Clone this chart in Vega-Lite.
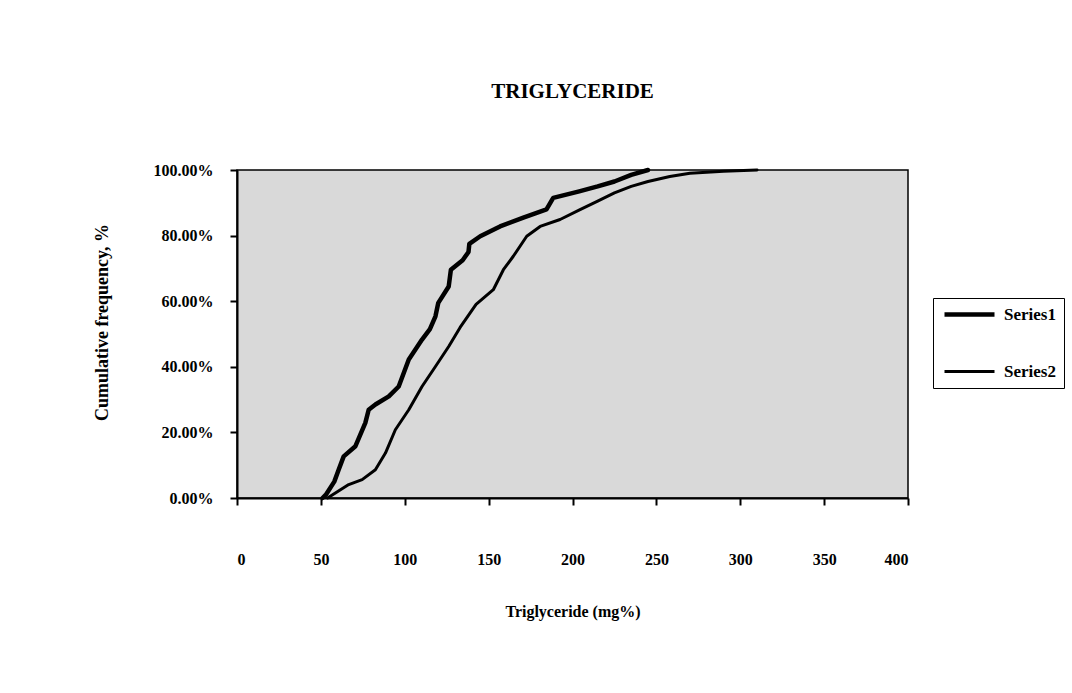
{
  "$schema": "https://vega.github.io/schema/vega-lite/v6.json",
  "autosize": "none",
  "width": 671,
  "height": 328,
  "padding": {"left": 237, "top": 170, "right": 164, "bottom": 195},
  "background": "white",
  "title": {"text": "TRIGLYCERIDE", "font": "Liberation Serif", "fontSize": 21, "fontWeight": "bold", "color": "black", "anchor": "middle", "offset": 60},
  "data": {"values": [
    {"series": "Series1", "tg": 51, "cf": 0},
    {"series": "Series1", "tg": 53, "cf": 0.01},
    {"series": "Series1", "tg": 58, "cf": 0.05},
    {"series": "Series1", "tg": 60.6, "cf": 0.086},
    {"series": "Series1", "tg": 63.6, "cf": 0.127},
    {"series": "Series1", "tg": 70.6, "cf": 0.158},
    {"series": "Series1", "tg": 76.5, "cf": 0.229},
    {"series": "Series1", "tg": 78.5, "cf": 0.269},
    {"series": "Series1", "tg": 82.5, "cf": 0.285},
    {"series": "Series1", "tg": 90.5, "cf": 0.31},
    {"series": "Series1", "tg": 96.4, "cf": 0.34},
    {"series": "Series1", "tg": 102.4, "cf": 0.422},
    {"series": "Series1", "tg": 110.3, "cf": 0.483},
    {"series": "Series1", "tg": 115, "cf": 0.515},
    {"series": "Series1", "tg": 118.3, "cf": 0.554},
    {"series": "Series1", "tg": 120, "cf": 0.595},
    {"series": "Series1", "tg": 126.2, "cf": 0.645},
    {"series": "Series1", "tg": 127.5, "cf": 0.696},
    {"series": "Series1", "tg": 134.5, "cf": 0.725},
    {"series": "Series1", "tg": 138, "cf": 0.75},
    {"series": "Series1", "tg": 138.5, "cf": 0.775},
    {"series": "Series1", "tg": 145, "cf": 0.798},
    {"series": "Series1", "tg": 156.8, "cf": 0.828},
    {"series": "Series1", "tg": 170.7, "cf": 0.855},
    {"series": "Series1", "tg": 184.5, "cf": 0.88},
    {"series": "Series1", "tg": 188.5, "cf": 0.915},
    {"series": "Series1", "tg": 204, "cf": 0.935},
    {"series": "Series1", "tg": 215, "cf": 0.95},
    {"series": "Series1", "tg": 225, "cf": 0.965},
    {"series": "Series1", "tg": 235, "cf": 0.985},
    {"series": "Series1", "tg": 245, "cf": 1.0},
    {"series": "Series2", "tg": 54, "cf": 0},
    {"series": "Series2", "tg": 57, "cf": 0.01},
    {"series": "Series2", "tg": 66.6, "cf": 0.041},
    {"series": "Series2", "tg": 74.6, "cf": 0.056},
    {"series": "Series2", "tg": 82.5, "cf": 0.086},
    {"series": "Series2", "tg": 88.5, "cf": 0.137},
    {"series": "Series2", "tg": 94.4, "cf": 0.208},
    {"series": "Series2", "tg": 102.4, "cf": 0.269},
    {"series": "Series2", "tg": 110.3, "cf": 0.34},
    {"series": "Series2", "tg": 118.3, "cf": 0.401},
    {"series": "Series2", "tg": 126.2, "cf": 0.462},
    {"series": "Series2", "tg": 133, "cf": 0.52},
    {"series": "Series2", "tg": 142.5, "cf": 0.59},
    {"series": "Series2", "tg": 152.8, "cf": 0.635},
    {"series": "Series2", "tg": 158.8, "cf": 0.696},
    {"series": "Series2", "tg": 164.7, "cf": 0.737},
    {"series": "Series2", "tg": 172.7, "cf": 0.798},
    {"series": "Series2", "tg": 180.7, "cf": 0.828},
    {"series": "Series2", "tg": 192.6, "cf": 0.849},
    {"series": "Series2", "tg": 204.5, "cf": 0.879},
    {"series": "Series2", "tg": 215, "cf": 0.905},
    {"series": "Series2", "tg": 225, "cf": 0.93},
    {"series": "Series2", "tg": 235, "cf": 0.95},
    {"series": "Series2", "tg": 245, "cf": 0.965},
    {"series": "Series2", "tg": 258, "cf": 0.98},
    {"series": "Series2", "tg": 270, "cf": 0.99},
    {"series": "Series2", "tg": 290, "cf": 0.996},
    {"series": "Series2", "tg": 310, "cf": 1.0}
  ]},
  "mark": {"type": "line", "interpolate": "linear", "strokeJoin": "round", "strokeCap": "round"},
  "encoding": {
    "x": {"field": "tg", "type": "quantitative",
      "scale": {"domain": [0, 400], "nice": false},
      "axis": {"title": "Triglyceride (mg%)", "values": [0, 50, 100, 150, 200, 250, 300, 350, 400],
        "grid": false, "domainColor": "black", "domainWidth": 2, "tickColor": "black", "tickWidth": 2, "tickSize": 7,
        "labelFont": "Liberation Serif", "labelFontWeight": "bold", "labelFontSize": 16, "labelColor": "black", "labelPadding": 46,
        "titleFont": "Liberation Serif", "titleFontWeight": "bold", "titleFontSize": 16, "titleColor": "black", "titlePadding": 36}},
    "y": {"field": "cf", "type": "quantitative",
      "scale": {"domain": [0, 1], "nice": false},
      "axis": {"title": "Cumulative frequency, %", "values": [0, 0.2, 0.4, 0.6, 0.8, 1.0], "format": ".2%",
        "grid": false, "domainColor": "black", "domainWidth": 2, "tickColor": "black", "tickWidth": 2, "tickSize": 7,
        "labelFont": "Liberation Serif", "labelFontWeight": "bold", "labelFontSize": 16, "labelColor": "black", "labelPadding": 17,
        "titleFont": "Liberation Serif", "titleFontWeight": "bold", "titleFontSize": 18, "titleColor": "black", "titlePadding": 42, "titleY": 152}},
    "color": {"field": "series", "type": "nominal",
      "scale": {"domain": ["Series1", "Series2"], "range": ["black", "black"]},
      "legend": {"title": null, "orient": "none", "legendX": 696, "legendY": 128, "symbolType": "M-1,0L9,0", "symbolSize": 100,
        "strokeColor": "black", "padding": 8, "rowPadding": 38, "labelFont": "Liberation Serif", "labelFontWeight": "bold",
        "labelFontSize": 17, "labelColor": "black", "symbolStrokeColor": "black", "labelOffset": 46}},
    "strokeWidth": {"field": "series", "type": "nominal",
      "scale": {"domain": ["Series1", "Series2"], "range": [4.5, 3]}, "legend": null}
  },
  "config": {
    "view": {"fill": "#d9d9d9", "stroke": "black", "strokeWidth": 1.5}
  }
}
